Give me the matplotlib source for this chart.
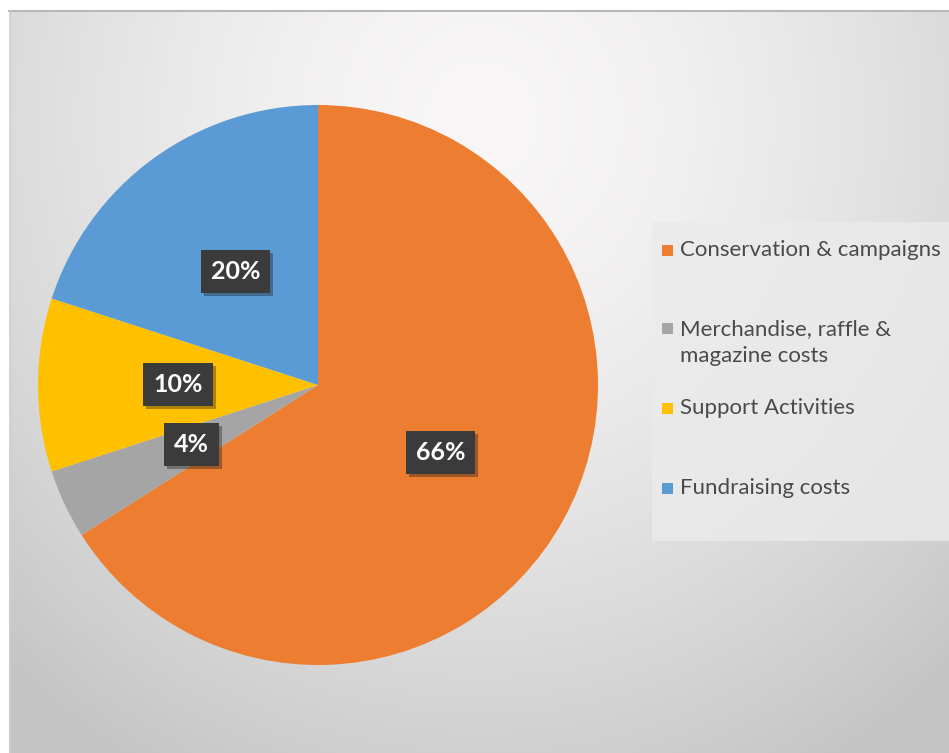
import numpy as np
import matplotlib.pyplot as plt
import matplotlib.patheffects as pe
from matplotlib.patches import Rectangle

# data
labels = ['Conservation & campaigns', 'Merchandise, raffle &\nmagazine costs',
          'Support Activities', 'Fundraising costs']
shares = [66, 4, 10, 20]
colors = ['#ED7D31', '#A5A5A5', '#FFC000', '#5B9BD5']

W, H = 949, 753
fig = plt.figure(figsize=(W / 100, H / 100), dpi=100)
fig.set_facecolor('white')

# gradient background of the chart area
bg = fig.add_axes([9 / W, 0, 1 - 9 / W, (H - 10) / H])
yy, xx = np.mgrid[10:H, 9:W]
t = np.sqrt(((xx - 480) / 700.0) ** 2 + ((yy - 120) / 750.0) ** 2)
t = np.clip(t, 0, 1) ** 1.6
c0 = np.array([248, 246, 246]) / 255.0
c1 = np.array([196, 196, 196]) / 255.0
img = c0[None, None, :] + (c1 - c0)[None, None, :] * t[:, :, None]
bg.imshow(img, aspect='auto', interpolation='bilinear')
bg.axis('off')
fig.add_artist(plt.Line2D([9 / W, 1], [(H - 10.5) / H] * 2, color='#b8b8b8', lw=1.5))
fig.add_artist(plt.Line2D([9.5 / W] * 2, [0, (H - 10) / H], color='#d0d0d0', lw=1))

# pie
cx, cy, R = 318, 385, 280
ax = fig.add_axes([(cx - R) / W, (H - cy - R) / H, 2 * R / W, 2 * R / H])
wedges, texts, autotexts = ax.pie(shares, colors=colors, startangle=90, counterclock=False,
                                  autopct=lambda p: '%d%%' % round(p), pctdistance=0.5,
                                  wedgeprops=dict(linewidth=0),
                                  textprops=dict(color='white', fontsize=18, fontweight='bold',
                                                 family='Lato'))
ax.set_xlim(-1, 1)
ax.set_ylim(-1, 1)
for t_ in autotexts:
    t_.set_bbox(dict(boxstyle='square,pad=0.4', facecolor='#3b3b3b', edgecolor='none'))
    t_.get_bbox_patch().set_path_effects([pe.SimplePatchShadow(offset=(2, -2), alpha=0.35),
                                          pe.Normal()])

# legend box
fig.add_artist(Rectangle((652 / W, (H - 541) / H), (W - 652) / W, (541 - 222) / H,
                         transform=fig.transFigure, facecolor='#ebebeb', edgecolor='none',
                         alpha=0.8))
ys = [250, 342.5, 408, 488]
sq_y = [250, 328, 408, 488]
for lab, col, y, sy in zip(labels, colors, ys, sq_y):
    fig.text(680 / W, (H - y) / H, lab, fontsize=16, family='Lato', color='#4a4a4a',
             va='center', ha='left', linespacing=1.45)
    fig.add_artist(Rectangle((662 / W, (H - sy - 5.5) / H), 11 / W, 11 / H,
                             transform=fig.transFigure, facecolor=col, edgecolor='none'))

fig.savefig('out.png', dpi=100)
